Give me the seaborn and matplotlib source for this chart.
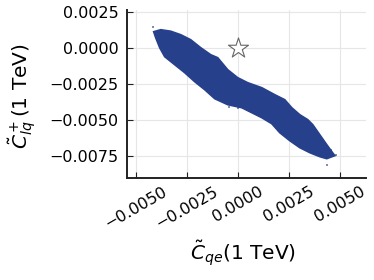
import matplotlib
matplotlib.use("Agg")
import matplotlib.pyplot as plt
import seaborn as sns

# Outline of the posterior sample cloud, clockwise
cloud_x = [-0.004132, -0.003789, -0.003299, -0.002809, -0.002319, -0.001828, -0.001338,
           -0.000995, -0.000505, -0.000015, 0.000475, 0.001162, 0.001799, 0.002289,
           0.002632, 0.003025, 0.003417, 0.003662, 0.004005, 0.004348, 0.004740,
           0.004348, 0.004005, 0.003515, 0.003025, 0.002534, 0.002044, 0.001652,
           0.001162, 0.000672, 0.000181, -0.000505, -0.001142, -0.001632, -0.002123,
           -0.002613, -0.003103, -0.003593, -0.003838, -0.004034]
cloud_y = [0.001132, 0.001271, 0.001167, 0.000924, 0.000576, 0.000021, -0.000465,
           -0.000674, -0.001507, -0.002062, -0.002410, -0.002757, -0.003243, -0.003590,
           -0.004146, -0.004632, -0.004979, -0.005326, -0.006021, -0.006715, -0.007479,
           -0.007687, -0.007548, -0.007271, -0.006923, -0.006437, -0.005882, -0.005257,
           -0.004840, -0.004493, -0.004146, -0.003937, -0.003521, -0.002896, -0.002340,
           -0.001715, -0.001160, -0.000604, 0.000021, 0.000715]

# A few stray samples outside the dense cloud
stray_x = [-0.004181, -0.000456, -0.000015, 0.004348, 0.004789, 0.004544]
stray_y = [0.001479, -0.004076, -0.004146, -0.008104, -0.007410, -0.007063]

# Standard-model point
sm_x = [0.0]
sm_y = [0.0]

xticks = [-0.005, -0.0025, 0.0, 0.0025, 0.005]
yticks = [0.0025, 0.0, -0.0025, -0.005, -0.0075]

sns.set_theme(style="whitegrid")
plt.rcParams['font.family'] = ['DejaVu Sans']
plt.rcParams['mathtext.fontset'] = 'dejavusans'

fig = plt.figure(figsize=(3.74, 2.80), dpi=100)
ax = fig.add_axes([127 / 374, 1 - 178 / 280, 239 / 374, 168 / 280])

blue = "#27408B"
ax.fill(cloud_x, cloud_y, color=blue, lw=1.2, ec=blue, zorder=2)
sns.scatterplot(x=stray_x, y=stray_y, ax=ax, marker="s", s=1.5, color=blue,
                alpha=0.6, edgecolor="none", zorder=2)
sns.scatterplot(x=sm_x, y=sm_y, ax=ax, marker="*", s=230, color="white",
                edgecolor="#666666", linewidth=0.8, zorder=3)

ax.set_xlim(-0.00544, 0.00627)
ax.set_ylim(-0.00903, 0.00264)
ax.set_xticks(xticks)
ax.set_yticks(yticks)
ax.set_xticklabels([f"{v:.4f}".replace("-", "\u2212") for v in xticks],
                   rotation=30, ha="center", va="top")
ax.set_yticklabels([f"{v:.4f}".replace("-", "\u2212") for v in yticks])

ax.grid(True, color="#e6e6e6", linewidth=0.8)
ax.set_axisbelow(True)
for s in ["top", "right"]:
    ax.spines[s].set_visible(False)
for s in ["left", "bottom"]:
    ax.spines[s].set_visible(True)
    ax.spines[s].set_color("#222222")
    ax.spines[s].set_linewidth(1.4)
ax.tick_params(axis="both", direction="in", length=4, width=0.8, color="#222222",
               labelsize=11.5, labelcolor="black")
ax.tick_params(axis="x", bottom=True, pad=4)
ax.tick_params(axis="y", left=True, pad=6)

ax.set_xlabel(r"$\tilde{C}_{qe}$(1 TeV)", fontsize=14.5, color="black")
ax.set_ylabel(r"$\tilde{C}^+_{lq}$(1 TeV)", fontsize=14.5, color="black")
ax.xaxis.set_label_coords(0.485, -0.357)
ax.yaxis.set_label_coords(-0.372, 0.485)
ax.xaxis.label.set_va("top")
ax.yaxis.label.set_va("bottom")

fig.savefig("out.png", dpi=100)
